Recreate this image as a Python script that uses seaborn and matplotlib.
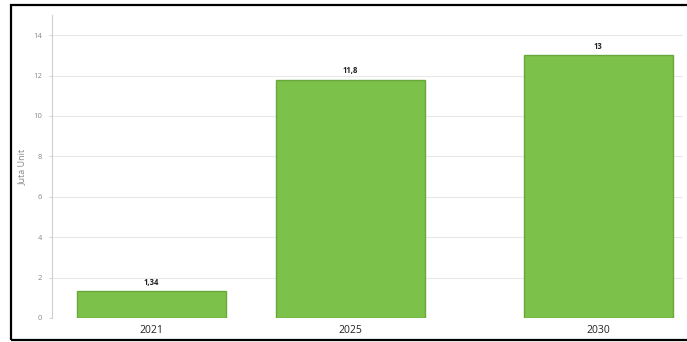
import matplotlib
matplotlib.use("Agg")
import matplotlib.pyplot as plt
from matplotlib.patches import Rectangle
import seaborn as sns

# Data: sales forecast in million units
years = [2021, 2025, 2030]
values = [1.34, 11.8, 13]
y_ticks = [0, 2, 4, 6, 8, 10, 12, 14]

sns.set_theme(style="white")
plt.rcParams["font.family"] = ["Open Sans", "DejaVu Sans"]

W, H = 687, 342
fig = plt.figure(figsize=(W / 100, H / 100), dpi=100)
ax = fig.add_axes([52 / W, (H - 318) / H, (683 - 52) / W, 303 / H])

bar_fill = "#7cc24a"
bar_edge = "#68a83a"
sns.barplot(x=years, y=values, native_scale=True, width=0.75,
            color=bar_fill, saturation=1, edgecolor=bar_edge,
            linewidth=1.0, ax=ax, zorder=3)

ax.set_xlim(2018.99, 2031.71)
ax.set_ylim(0, 15)
ax.set_yticks(y_ticks)
ax.set_yticklabels([str(t) for t in y_ticks], fontsize=5.5, color="#888888")
ax.set_xticks(years)
ax.set_xticklabels([str(y) for y in years], fontsize=7.5, color="#222222")
ax.tick_params(axis="y", length=2, width=0.6, color="#cccccc", pad=5, left=True)
ax.tick_params(axis="x", length=0, pad=5)

ax.grid(axis="y", color="#e8e8e8", linewidth=0.8, zorder=0)
ax.set_axisbelow(True)
for side in ["top", "right", "bottom"]:
    ax.spines[side].set_visible(False)
ax.spines["left"].set_color("#d0d0d0")
ax.spines["left"].set_linewidth(0.8)

ax.set_ylabel("Juta Unit", fontsize=6.5, color="#888888", labelpad=5)
ax.set_xlabel("")

labels = [f"{v:g}".replace(".", ",") for v in values]
ax.bar_label(ax.containers[0], labels=labels, padding=3,
             fontsize=5.5, fontweight="bold", color="#222222")

# Black frame around the figure
fig.patches.append(Rectangle((11 / W, 2 / H), 1.0, (H - 7) / H,
                             transform=fig.transFigure, fill=False,
                             edgecolor="black", linewidth=1.6, zorder=10))

fig.savefig("out.png", dpi=100)
